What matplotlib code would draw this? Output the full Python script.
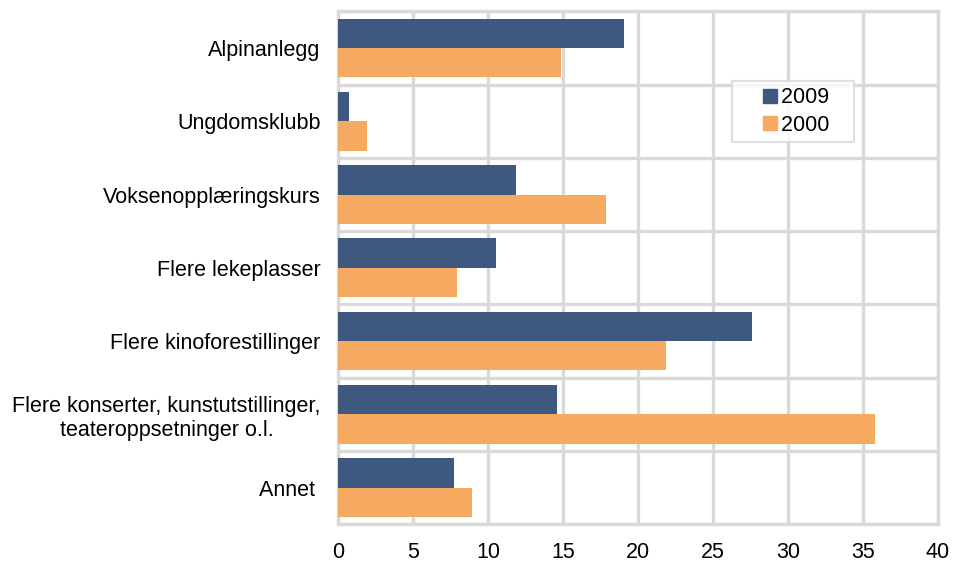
import numpy as np
import matplotlib.pyplot as plt
from matplotlib.lines import Line2D

plt.rcParams["font.family"] = ["Liberation Sans", "DejaVu Sans"]

categories = [
    "Alpinanlegg",
    "Ungdomsklubb",
    "Voksenopplæringskurs",
    "Flere lekeplasser",
    "Flere kinoforestillinger",
    "Flere konserter, kunstutstillinger,\nteateroppsetninger o.l.",
    "Annet ",
]
values_2009 = [19.1, 0.7, 11.9, 10.5, 27.6, 14.6, 7.7]
values_2000 = [14.9, 1.9, 17.9, 7.9, 21.9, 35.8, 8.9]
series_names = ["2009", "2000"]
xticks = [0, 5, 10, 15, 20, 25, 30, 35, 40]

navy = "#3f5880"
orange = "#f6aa5f"
grid = "#d9d9d9"

fig = plt.figure(figsize=(9.55, 5.65), dpi=100)
ax = fig.add_axes([0.354, 0.072, 0.628, 0.908])

y = np.arange(len(categories))
h = 0.4
ax.barh(y - h / 2, values_2009, height=h, color=navy, zorder=3)
ax.barh(y + h / 2, values_2000, height=h, color=orange, zorder=3)

ax.set_xlim(0, 40)
ax.set_ylim(len(categories) - 0.5, -0.5)
ax.set_xticks(xticks)
ax.set_yticks(y)
ax.set_yticklabels(categories, multialignment="center")
ax.set_yticks(np.arange(len(categories) + 1) - 0.5, minor=True)
ax.tick_params(axis="both", which="both", length=0, labelsize=15.5, colors="black")
ax.tick_params(axis="y", pad=12.5)
ax.tick_params(axis="x", pad=13)

ax.grid(axis="x", which="major", color=grid, linewidth=2.4, zorder=0)
ax.grid(axis="y", which="minor", color=grid, linewidth=2.4, zorder=0)
for s in ax.spines.values():
    s.set_color(grid)
    s.set_linewidth(2.4)

# square markers sitting in the middle of a wide handle, like the original
handles = [Line2D([], [], linestyle="none", marker="s", markersize=10,
                  markerfacecolor=c, markeredgecolor=c) for c in (navy, orange)]
labels = [n + "   " for n in series_names]
leg = ax.legend(handles, labels, loc="upper left", bbox_to_anchor=(0.657, 0.865),
                fontsize=15.5, frameon=True, fancybox=False, numpoints=1,
                handlelength=2.9, handletextpad=-0.95, borderpad=0.31,
                labelspacing=0.3, borderaxespad=0)
leg.get_frame().set_edgecolor(grid)
leg.get_frame().set_linewidth(1.5)
leg.set_zorder(5)

fig.savefig("out.png", dpi=100)
